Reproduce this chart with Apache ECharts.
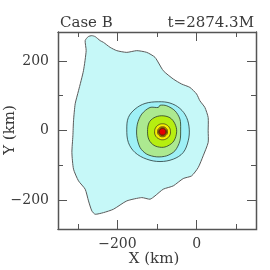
<!DOCTYPE html>
<html><head><meta charset="utf-8">
<script src="https://cdn.jsdelivr.net/npm/echarts@6/dist/echarts.min.js"></script>
<style>html,body{margin:0;padding:0;background:#fff}#c{width:270px;height:270px}</style>
</head><body><div id="c"></div>
<script>
// ---- data (km) ----
const titleLeft = "Case B";
const titleRight = "t=2874.3M";
const xName = "X (km)";
const yName = "Y (km)";
const xMajorTicks = [-200, 0];
const xMinorTicks = [-300, -100, 100];
const yMajorTicks = [-200, 0, 200];
const yMinorTicks = [-100, 100];

// outermost contour (light cyan)
const outerBoundary = [
  [-264.5,272.5],[-256,269.7],[-243.6,258.2],[-235.3,253.3],[-218.4,238.9],[-201.5,229.4],
  [-176.3,224.5],[-151.1,229.4],[-126,224.5],[-105,210.1],[-84.1,171.8],[-58.9,147.9],
  [-37.8,133.5],[-16.9,123.8],[0,104.8],[8.3,85.5],[20.9,66.2],[29.2,37.4],[29.2,-0.9],
  [29.2,-34.5],[16.6,-72.8],[4,-106.5],[-12.6,-130.4],[-33.8,-138.1],[-58.9,-159.1],
  [-84.1,-168.6],[-105,-187.9],[-117.6,-197.4],[-138.5,-192.8],[-176.3,-202.3],
  [-210,-226.2],[-235.3,-236],[-256.2,-240.6],[-264.5,-231.1],[-273,-202.3],[-281.4,-168.6],
  [-298.2,-144.8],[-310.8,-111.1],[-314.9,-63.3],[-312.4,-15.3],[-310.8,27.9],[-306.6,76.8],
  [-298.2,114.3],[-285.7,171.8],[-278.9,229.4],[-281.4,258.2],[-273.8,269.7]
];
const ringCyan = [
  [-96.7,82.6],[-67.3,78.9],[-42.1,63.3],[-25.2,37.4],[-18.6,4.0],[-21.2,-29.6],[-33.8,-63.3],
  [-58.9,-82.3],[-92.4,-89.2],[-126,-82.3],[-155.4,-63.3],[-172.3,-34.5],[-176.3,4.0],
  [-172.3,37.4],[-155.4,61.6],[-130.2,77.7]
];
const ringLightGreen = [
  [-117.6,66.2],[-96.7,66.2],[-92.4,72.5],[-75.6,71.1],[-54.7,56.7],[-42.1,32.8],[-40.3,4.0],
  [-42.1,-29.6],[-54.7,-58.4],[-75.6,-72.8],[-100.8,-75.7],[-126,-67.9],[-142.8,-48.9],
  [-151.1,-15.3],[-149.6,18.4],[-138.5,47.2]
];
const ringYellowGreen = [
  [-88.2,42.3],[-67.3,36.6],[-54.7,19.3],[-50.4,-3.7],[-57.2,-29.6],[-72.3,-44],[-88.2,-48.4],
  [-107.6,-42.6],[-120.2,-26.8],[-123.9,-3.7],[-120.2,22.2],[-107.6,36.6]
];
const ringYellow = [
  [-86,19.3],[-76,16.3],[-68.5,8],[-66,-3.7],[-68.5,-15.5],[-76,-23.5],[-86,-26.7],
  [-96,-23.5],[-103.5,-15.5],[-106,-3.7],[-103.5,8],[-96,16.3]
];
const ringOrange = [
  [-86,10.7],[-77.1,6.5],[-73.4,-3.7],[-77.1,-13.9],[-86,-18.1],[-94.9,-13.9],[-98.6,-3.7],[-94.9,6.5]
];
const ringBrown = [
  [-86,7.8],[-78.9,4.6],[-76,-3.7],[-78.9,-11.8],[-86,-15.2],[-93.1,-11.8],[-96,-3.7],[-93.1,4.6]
];
const ringRed = [
  [-86,5.8],[-80.1,3],[-77.7,-3.7],[-80.1,-10.4],[-86,-13.2],[-91.9,-10.4],[-94.3,-3.7],[-91.9,3]
];

const polygons = [outerBoundary, ringCyan, ringLightGreen, ringYellowGreen, ringYellow, ringOrange, ringBrown, ringRed];
const fills = ['#c6f8f8', '#9ef0f6', '#ace990', '#b6ee10', '#f6ee00', '#e2b400', '#c88a00', '#e40000'];
const strokes = ['#5a5a5a', '#2a3a3a', '#2a3a2a', '#2a3a2a', '#3a3a1a', '#4a3a10', '#4a2a00', '#401010'];
const smooths = [0.2, 0.35, 0.3, 0.35, 0.45, 0.5, 0.5, 0.5];

const FONT = 'DejaVu Serif';
const TXT = '#3a3a3a';
const FS = 14;
const LINE = '#555';

const chart = echarts.init(document.getElementById('c'), null, {renderer: 'canvas'});
const xr = {min: -350, max: 150};
const yr = {min: -283, max: 283};
const fmt = v => (v < 0 ? '\u2212' + Math.abs(v) : '' + v);
function xa(pos, ticks, len, labels) {
  return Object.assign({type: 'value', position: pos, splitLine: {show: false},
    axisLine: {show: true, onZero: false, lineStyle: {color: LINE, width: 1}},
    axisTick: {show: true, inside: true, length: len, customValues: ticks, lineStyle: {color: LINE}},
    axisLabel: labels ? {show: true, customValues: labels, margin: 8, fontFamily: FONT, fontSize: FS, color: TXT, formatter: fmt} : {show: false}
  }, xr);
}
function ya(pos, ticks, len, labels) {
  return Object.assign({type: 'value', position: pos, splitLine: {show: false},
    axisLine: {show: true, onZero: false, lineStyle: {color: LINE, width: 1}},
    axisTick: {show: true, inside: true, length: len, customValues: ticks, lineStyle: {color: LINE}},
    axisLabel: labels ? {show: true, customValues: labels, margin: 9, fontFamily: FONT, fontSize: FS, color: TXT, formatter: fmt} : {show: false}
  }, yr);
}

chart.setOption({
  animation: false,
  grid: {left: 58, top: 32, width: 198, height: 197, containLabel: false},
  xAxis: [
    xa('bottom', xMajorTicks, 9, xMajorTicks),
    xa('bottom', xMinorTicks, 5, null),
    xa('top', xMajorTicks, 9, null),
    xa('top', xMinorTicks, 5, null)
  ],
  yAxis: [
    ya('left', yMajorTicks, 9, yMajorTicks),
    ya('left', yMinorTicks, 5, null),
    ya('right', yMajorTicks, 9, null),
    ya('right', yMinorTicks, 5, null)
  ],
  graphic: [
    {type: 'text', x: 60, y: 23, style: {text: titleLeft, font: '15px "' + FONT + '"', fill: TXT, textAlign: 'left', textVerticalAlign: 'middle'}},
    {type: 'text', x: 254, y: 23, style: {text: titleRight, font: '15px "' + FONT + '"', fill: TXT, textAlign: 'right', textVerticalAlign: 'middle'}},
    {type: 'text', x: 154, y: 259, style: {text: xName, font: '15px "' + FONT + '"', fill: TXT, textAlign: 'center', textVerticalAlign: 'middle'}},
    {type: 'text', x: 10, y: 130, rotation: Math.PI / 2, style: {text: yName, font: '15px "' + FONT + '"', fill: TXT, textAlign: 'center', textVerticalAlign: 'middle'}}
  ],
  series: [{
    type: 'custom',
    coordinateSystem: 'cartesian2d',
    xAxisIndex: 0, yAxisIndex: 0,
    clip: true,
    z: 1,
    data: polygons.map((p, i) => [p[0][0], p[0][1], i]),
    renderItem: function (params, api) {
      const i = api.value(2);
      const pts = polygons[i].map(v => api.coord(v));
      return {
        type: 'polygon',
        shape: {points: pts, smooth: smooths[i]},
        style: {fill: fills[i], stroke: strokes[i], lineWidth: i === 0 ? 1 : 0.8}
      };
    }
  }, {
    // plot frame, placed through the axes' scale at the axis extents
    type: 'custom',
    coordinateSystem: 'cartesian2d',
    xAxisIndex: 0, yAxisIndex: 0,
    clip: false,
    silent: true,
    z: 10,
    data: [[xr.min, yr.max, xr.max, yr.min]],
    renderItem: function (params, api) {
      const a = api.coord([api.value(0), api.value(1)]);
      const b = api.coord([api.value(2), api.value(3)]);
      const x0 = Math.round(a[0]) + 0.5, y0 = Math.round(a[1]) + 0.5;
      return {
        type: 'rect',
        shape: {x: x0, y: y0, width: Math.round(b[0] - a[0]), height: Math.round(b[1] - a[1])},
        style: {fill: 'none', stroke: LINE, lineWidth: 1.5}
      };
    }
  }]
});
</script></body></html>
